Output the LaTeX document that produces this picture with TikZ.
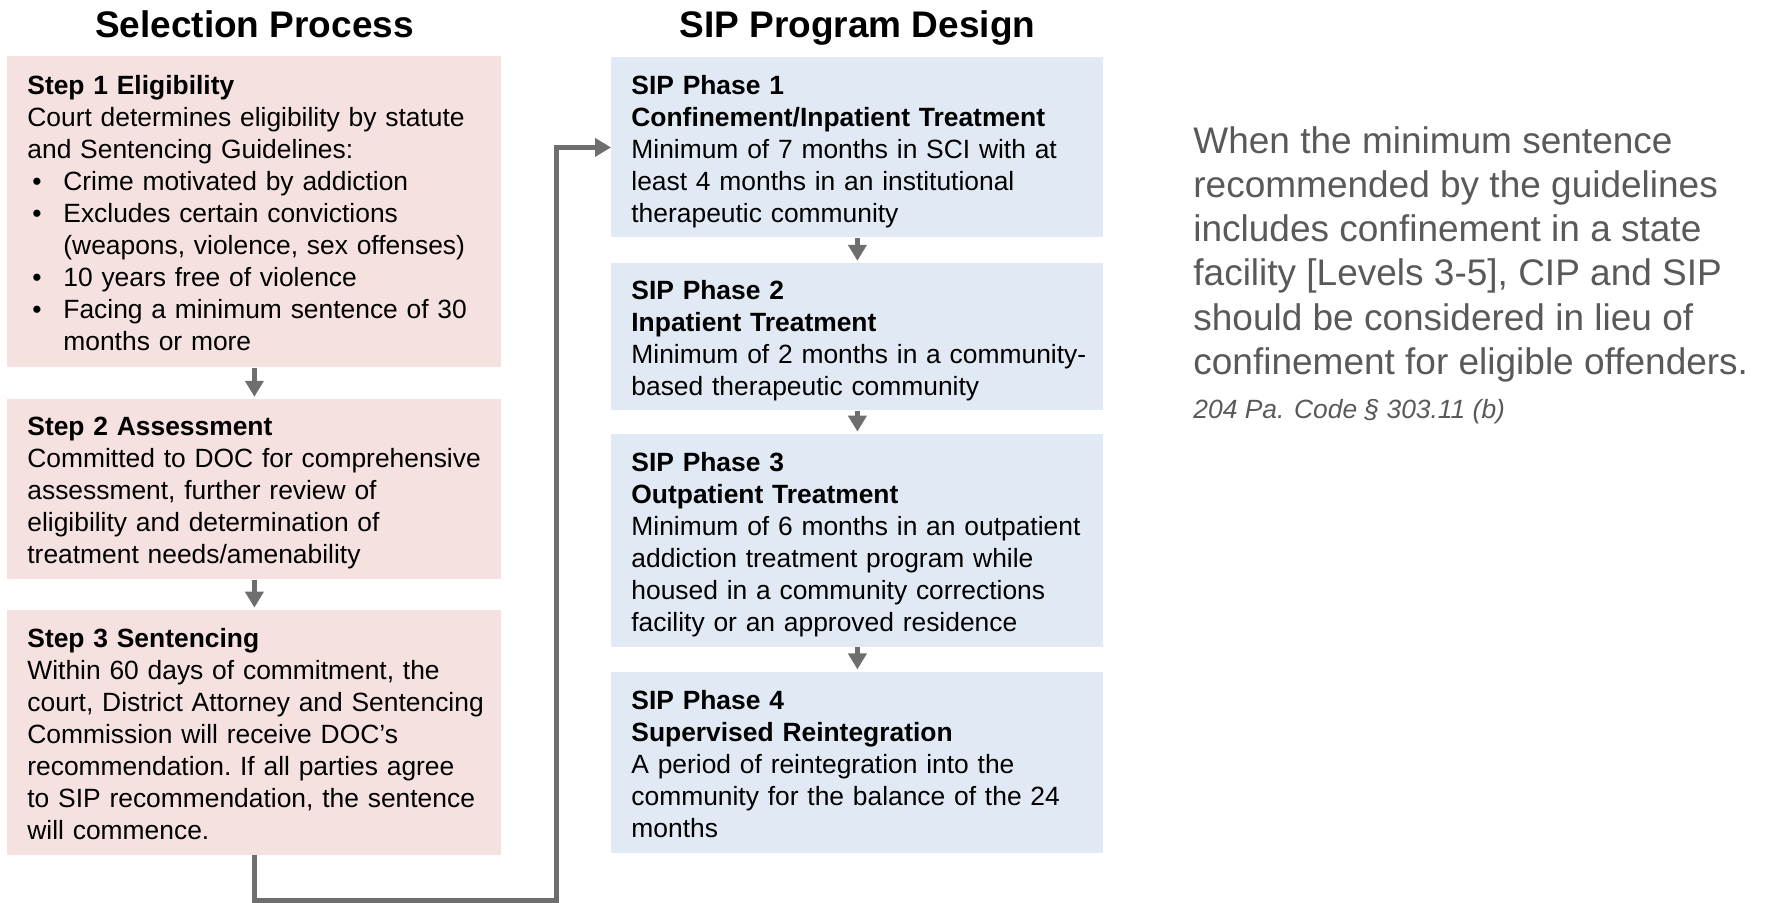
\documentclass[tikz,border=0pt]{standalone}
\usepackage{fontspec}
\setmainfont{Liberation Sans}
\usetikzlibrary{positioning,arrows.meta,calc}
\definecolor{selFill}{RGB}{244,225,224}
\definecolor{sipFill}{RGB}{225,233,244}
\definecolor{flowGray}{RGB}{110,110,110}
\definecolor{noteGray}{RGB}{89,89,89}
\tikzset{
  sent/box/.style={align=left, inner xsep=10pt, inner ysep=2pt,
                   font=\fontsize{13.2pt}{16pt}\selectfont\frenchspacing,
                   execute at begin node={\rightskip=0pt plus 1fil minus 30pt\rule{0pt}{13.45pt}},
                   execute at end node={\rule[-2.55pt]{0pt}{2.55pt}}},
  sent/step/.style={sent/box, fill=selFill, text width=227pt, minimum width=247pt},
  sent/phase/.style={sent/box, fill=sipFill, text width=226pt, minimum width=246pt},
  sent/title/.style={font=\fontsize{18.5pt}{22pt}\selectfont\bfseries, inner sep=0pt},
  sent/arrow/.style={-{Triangle[width=9pt,length=8pt]}, line width=2.5pt, draw=flowGray},
  sent/note/.style={align=left, inner sep=0pt, text=noteGray},
}
\newcommand\selbullet[1]{\hspace*{2.5pt}\makebox[15.5pt][l]{•}#1}

\begin{document}
\begin{tikzpicture}
  \useasboundingbox (0,0) rectangle (885.5pt,-451pt);

  % ---------------- selection column ----------------
  \node[sent/step, anchor=north west, minimum height=155.5pt] (step1) at (3.5pt,-28pt)
    {\textbf{Step 1 Eligibility}\\
     Court determines eligibility by statute\\
     and Sentencing Guidelines:\\
     \selbullet{Crime motivated by addiction}\\
     \selbullet{Excludes certain convictions}\\
     \hspace*{18pt}(weapons, violence, sex offenses)\\
     \selbullet{10 years free of violence}\\
     \selbullet{Facing a minimum sentence of 30}\\
     \hspace*{18pt}months or more};
  \node[sent/step, below=15.5pt of step1, minimum height=90pt] (step2)
    {\textbf{Step 2 Assessment}\\
     Committed to DOC for comprehensive\\
     assessment, further review of\\
     eligibility and determination of\\
     treatment needs/amenability};
  \node[sent/step, below=15pt of step2, minimum height=122.5pt] (step3)
    {\textbf{Step 3 Sentencing}\\
     Within 60 days of commitment, the\\
     court, District Attorney and Sentencing\\
     Commission will receive DOC’s\\
     recommendation. If all parties agree\\
     to SIP recommendation, the sentence\\
     will commence.};

  \node[sent/title, anchor=base] (seltitle) at ([yshift=9.5pt]step1.north)
    {Selection Process};

  % ---------------- program column ----------------
  \node[sent/phase, anchor=north west, minimum height=90pt] (phase1) at (305.5pt,-28.5pt)
    {\textbf{SIP Phase 1}\\
     \textbf{Confinement/Inpatient Treatment}\\
     Minimum of 7 months in SCI with at\\
     least 4 months in an institutional\\
     therapeutic community};
  \node[sent/phase, below=12.5pt of phase1, minimum height=73.5pt] (phase2)
    {\textbf{SIP Phase 2}\\
     \textbf{Inpatient Treatment}\\
     Minimum of 2 months in a community-\\
     based therapeutic community};
  \node[sent/phase, below=11.5pt of phase2, minimum height=106.5pt] (phase3)
    {\textbf{SIP Phase 3}\\
     \textbf{Outpatient Treatment}\\
     Minimum of 6 months in an outpatient\\
     addiction treatment program while\\
     housed in a community corrections\\
     facility or an approved residence};
  \node[sent/phase, below=12pt of phase3, minimum height=90.5pt] (phase4)
    {\textbf{SIP Phase 4}\\
     \textbf{Supervised Reintegration}\\
     A period of reintegration into the\\
     community for the balance of the 24\\
     months};

  \node[sent/title, anchor=base] (siptitle) at ([yshift=10pt]phase1.north)
    {SIP Program Design};

  % ---------------- guideline note ----------------
  \node[sent/note, anchor=north west, font=\fontsize{18.5pt}{22.1pt}\selectfont]
    (quote) at (596.5pt,-63pt)
    {When the minimum sentence\\
     recommended by the guidelines\\
     includes confinement in a state\\
     facility [Levels 3-5], CIP and SIP\\
     should be considered in lieu of\\
     confinement for eligible offenders.};
  \node[sent/note, anchor=north west, font=\fontsize{13.2pt}{16pt}\selectfont\itshape]
    (cite) at ([yshift=-8.5pt]quote.south west)
    {204 Pa. Code § 303.11 (b)};

  % ---------------- arrows ----------------
  \draw[sent/arrow, shorten >=1pt] (step1) -- (step2);
  \draw[sent/arrow, shorten >=1pt] (step2) -- (step3);
  \draw[sent/arrow, shorten >=1pt] (phase1) -- (phase2);
  \draw[sent/arrow, shorten >=1pt] (phase2) -- (phase3);
  \draw[sent/arrow, shorten >=1pt] (phase3) -- (phase4);

  % Sentence feeds back up into phase 1 along the gutter.
  \coordinate (feedlow) at ([yshift=-22.5pt]step3.south);
  \coordinate (feedhigh) at ([xshift=-27.5pt]phase1.west);
  \draw[sent/arrow] (step3.south) -- (feedlow) -| (feedhigh) -- (phase1.west);

\end{tikzpicture}
\end{document}
